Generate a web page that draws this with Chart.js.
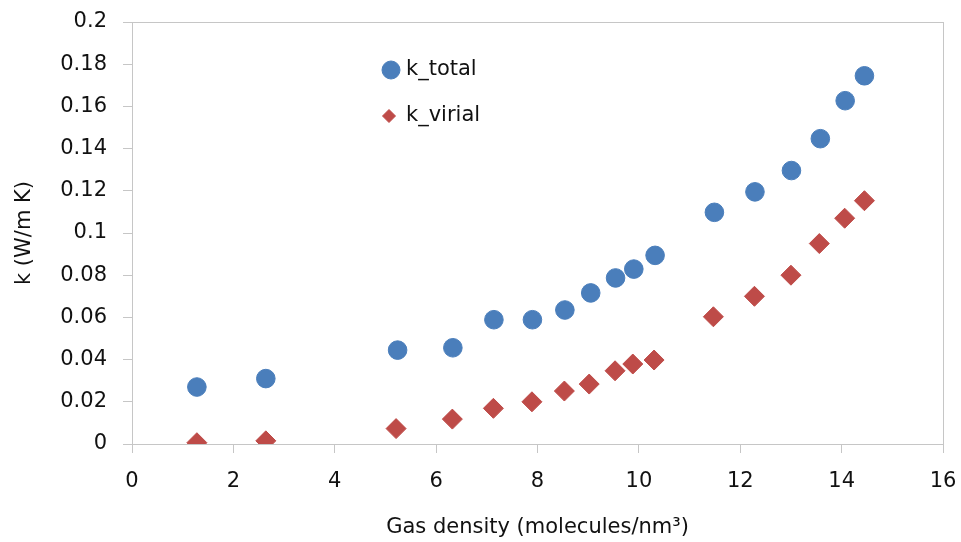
<!DOCTYPE html>
<html>
<head>
<meta charset="utf-8">
<script src="https://cdn.jsdelivr.net/npm/chart.js@4"></script>
<style>
  html, body { margin: 0; padding: 0; background: #fff; }
  #wrap { width: 961px; height: 542px; }
</style>
</head>
<body>
<div id="wrap"><canvas id="chart" width="961" height="542"></canvas></div>
<script>
  // gas density (molecules/nm^3) and conductivities (W/m K)
  const densityTotal = [1.28, 2.64, 5.24, 6.33, 7.14, 7.90, 8.54, 9.05, 9.54, 9.90, 10.32, 11.49, 12.29, 13.01, 13.58, 14.07, 14.45];
  const kTotal = [0.027, 0.031, 0.0445, 0.0456, 0.0589, 0.0589, 0.0635, 0.0716, 0.0787, 0.0829, 0.0894, 0.1098, 0.1195, 0.1296, 0.1447, 0.1627, 0.1745];

  const densityVirial = [1.28, 2.64, 5.21, 6.32, 7.13, 7.89, 8.53, 9.02, 9.53, 9.88, 10.30, 11.47, 12.28, 13.00, 13.56, 14.06, 14.45];
  const kVirial = [0.0006, 0.0015, 0.0073, 0.0118, 0.0169, 0.0200, 0.0251, 0.0284, 0.0347, 0.0379, 0.0398, 0.0603, 0.0700, 0.0800, 0.0950, 0.1070, 0.1153];

  const seriesNames = ["k_total", "k_virial"];
  const xTickLabels = ["0", "2", "4", "6", "8", "10", "12", "14", "16"];
  const yTickLabels = ["0", "0.02", "0.04", "0.06", "0.08", "0.1", "0.12", "0.14", "0.16", "0.18", "0.2"];

  const BLUE = "#4a7ebb";
  const RED = "#be4b48";
  const AXIS = "#c6c6c6";
  const TEXT = "#111111";
  const FONT = "'DejaVu Sans', 'Open Sans', sans-serif";

  function toPoints(xs, ys) {
    return xs.map((x, i) => ({ x: x, y: ys[i] }));
  }

  // frame round the plot area, like the spreadsheet original
  const plotFrame = {
    id: "plotFrame",
    afterDraw(chart) {
      const { ctx, chartArea } = chart;
      ctx.save();
      ctx.strokeStyle = AXIS;
      ctx.lineWidth = 1;
      ctx.strokeRect(Math.round(chartArea.left) + 0.5, Math.round(chartArea.top) + 0.5,
        Math.round(chartArea.right - chartArea.left), Math.round(chartArea.bottom - chartArea.top));
      ctx.restore();
    },
  };

  // legend sits inside the plot, top left of centre
  const innerLegend = {
    id: "innerLegend",
    afterDraw(chart) {
      const { ctx } = chart;
      const items = [
        { text: seriesNames[0], style: "circle", color: BLUE, r: 9, x: 391, y: 70 },
        { text: seriesNames[1], style: "rectRot", color: RED, r: 6.5, x: 389, y: 116 },
      ];
      ctx.save();
      items.forEach((it) => {
        ctx.fillStyle = it.color;
        ctx.strokeStyle = it.color;
        ctx.lineWidth = 1;
        Chart.helpers.drawPoint(ctx, { pointStyle: it.style, radius: it.r, borderWidth: 1 }, it.x, it.y);
        ctx.fillStyle = TEXT;
        ctx.font = "21px " + FONT;
        ctx.textAlign = "left";
        ctx.textBaseline = "middle";
        ctx.fillText(it.text, 406, it.y);
      });
      ctx.restore();
    },
  };

  new Chart(document.getElementById("chart"), {
    type: "scatter",
    data: {
      datasets: [
        {
          label: seriesNames[0],
          data: toPoints(densityTotal, kTotal),
          pointStyle: "circle",
          pointRadius: 9.3,
          pointHoverRadius: 9.3,
          backgroundColor: BLUE,
          borderColor: BLUE,
          borderWidth: 1,
        },
        {
          label: seriesNames[1],
          data: toPoints(densityVirial, kVirial),
          pointStyle: "rectRot",
          pointRadius: 10,
          pointHoverRadius: 10,
          backgroundColor: RED,
          borderColor: RED,
          borderWidth: 1,
        },
      ],
    },
    options: {
      responsive: false,
      animation: false,
      layout: { padding: { top: 22, right: 18, bottom: 2, left: 0 } },
      plugins: {
        legend: { display: false },
        tooltip: { enabled: false },
      },
      scales: {
        x: {
          type: "linear",
          min: 0,
          max: 16,
          afterFit(scale) {
            scale.height = 96;
            scale.paddingLeft = 0;
            scale.paddingRight = 0;
          },
          ticks: {
            stepSize: 2,
            padding: 16,
            color: TEXT,
            font: { family: FONT, size: 21 },
            callback: (value, index) => xTickLabels[index],
          },
          grid: { drawOnChartArea: false, drawTicks: true, tickLength: 9, color: AXIS },
          border: { color: AXIS },
          title: {
            display: true,
            text: "Gas density (molecules/nm³)",
            color: TEXT,
            font: { family: FONT, size: 21 },
            padding: { top: 0, bottom: 0 },
          },
        },
        y: {
          type: "linear",
          min: 0,
          max: 0.2,
          afterFit(scale) {
            scale.width = 132;
            scale.paddingTop = 0;
            scale.paddingBottom = 0;
          },
          ticks: {
            stepSize: 0.02,
            padding: 16,
            color: TEXT,
            font: { family: FONT, size: 21 },
            callback: (value, index) => yTickLabels[index],
          },
          grid: { drawOnChartArea: false, drawTicks: true, tickLength: 9, color: AXIS },
          border: { color: AXIS },
          title: {
            display: true,
            text: "k (W/m K)",
            color: TEXT,
            font: { family: FONT, size: 21 },
            padding: { top: 12, bottom: 0 },
          },
        },
      },
    },
    plugins: [plotFrame, innerLegend],
  });
</script>
</body>
</html>
